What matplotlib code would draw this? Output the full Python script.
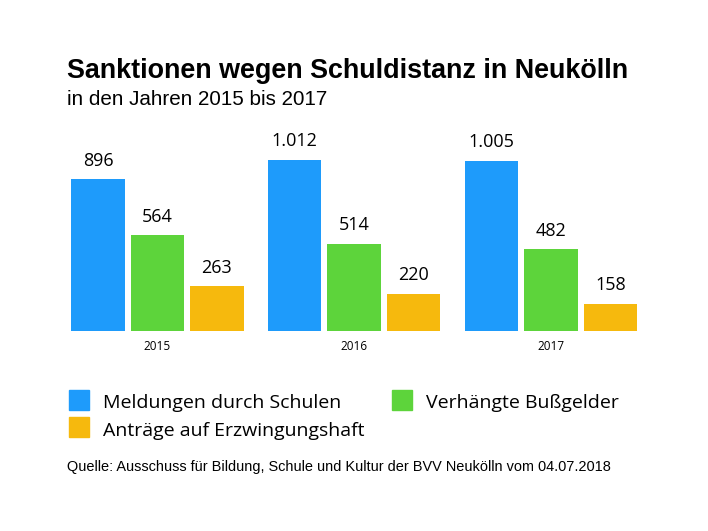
import matplotlib
matplotlib.use("Agg")
import matplotlib.pyplot as plt
import numpy as np
from matplotlib.patches import Rectangle

years = ["2015", "2016", "2017"]
series_names = ["Meldungen durch Schulen", "Verhängte Bußgelder", "Anträge auf Erzwingungshaft"]
meldungen = [896, 1012, 1005]
bussgelder = [564, 514, 482]
haft = [263, 220, 158]
colors = ["#1e9bfb", "#5dd43b", "#f6b90d"]


def fmt(v):
    # German thousands separator
    return f"{v:,}".replace(",", ".")


W, H = 708, 531
fig = plt.figure(figsize=(W / 100, H / 100), dpi=100)

# axes placed in pixel terms
ax_l, ax_r, ax_b, ax_t = 60, 660, 330.7, 130
ax = fig.add_axes([ax_l / W, (H - ax_b) / H, (ax_r - ax_l) / W, (ax_b - ax_t) / H])

step = 59.5      # px per bar step
center0 = 157.5  # px of first group centre
gap = 3.306      # groups apart in bar steps
ax.set_xlim((ax_l - center0) / step, (ax_r - center0) / step)
ax.set_ylim(0, (ax_b - ax_t) / 0.169)

x = np.arange(len(years)) * gap
for i, vals in enumerate([meldungen, bussgelder, haft]):
    pos = x + (i - 1)
    ax.bar(pos, vals, width=0.9, color=colors[i], linewidth=0)
    for p, v in zip(pos, vals):
        ax.annotate(fmt(v), (p, v), xytext=(0, 7), textcoords="offset points",
                    ha="center", va="bottom", fontsize=13, family="Open Sans")

ax.set_xticks(x)
ax.set_xticklabels(years, fontsize=8.5, family="Open Sans")
ax.tick_params(axis="x", length=0, pad=7)
ax.set_yticks([])
for s in ax.spines.values():
    s.set_visible(False)

# title block
fig.text(67 / W, (H - 77.7) / H, "Sanktionen wegen Schuldistanz in Neukölln",
         fontsize=19.4, fontweight="bold", family="Liberation Sans", va="baseline")
fig.text(67 / W, (H - 105) / H, "in den Jahren 2015 bis 2017",
         fontsize=14.9, family="Liberation Sans", va="baseline")

# legend drawn by hand
legend_items = [(69, 390, 0), (69, 417, 2), (392, 390, 1)]
for lx, ly, k in legend_items:
    fig.patches.append(Rectangle((lx / W, (H - ly - 20) / H), 20 / W, 20 / H,
                                 transform=fig.transFigure, color=colors[k]))
    fig.text((lx + 34) / W, (H - ly - 18.5) / H, series_names[k],
             fontsize=14, family="Open Sans", va="baseline")

fig.text(67 / W, (H - 470.7) / H,
         "Quelle: Ausschuss für Bildung, Schule und Kultur der BVV Neukölln vom 04.07.2018",
         fontsize=10.45, family="Liberation Sans", va="baseline")

fig.savefig("out.png", dpi=100)
